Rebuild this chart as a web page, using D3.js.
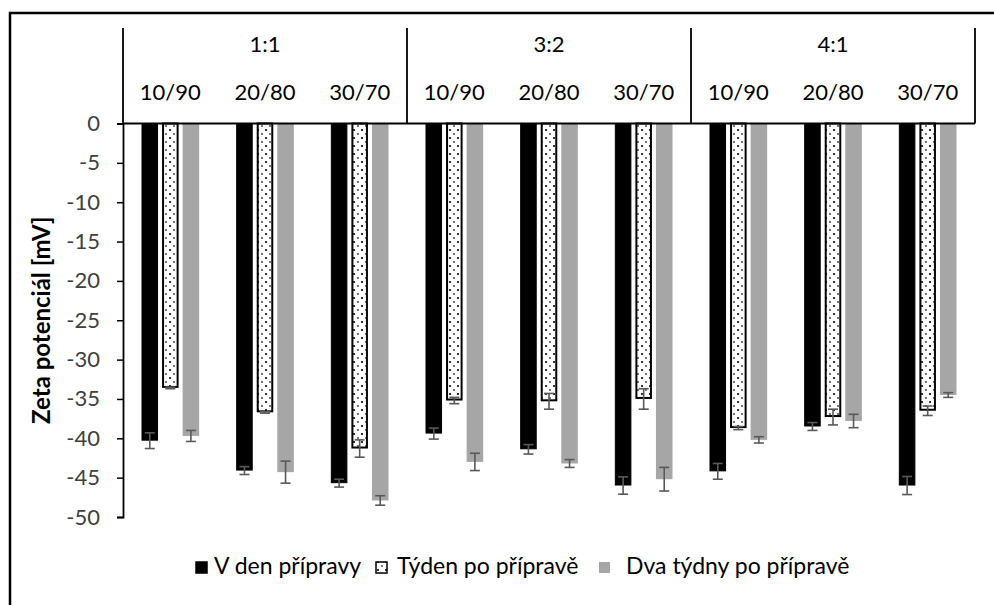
<!DOCTYPE html>
<html>
<head>
<meta charset="utf-8">
<script src="https://cdn.jsdelivr.net/npm/d3@7"></script>
<style>
  body { margin: 0; background: #fff; }
  svg { font-family: Lato, "Open Sans", sans-serif; }
</style>
</head>
<body>
<div id="chart"></div>
<script>
// data
const groups = ['1:1', '3:2', '4:1'];
const ratios = ['10/90', '20/80', '30/70'];
const seriesNames = ['V den přípravy', 'Týden po přípravě', 'Dva týdny po přípravě'];
const yTicks = [0, -5, -10, -15, -20, -25, -30, -35, -40, -45, -50];

const day0 = [-40.3, -44.1, -45.7, -39.4, -41.4, -46.0, -44.2, -38.5, -46.0];
const day0Err = [1.0, 0.5, 0.5, 0.7, 0.6, 1.1, 1.0, 0.5, 1.15];
const week1 = [-33.6, -36.7, -41.3, -35.2, -35.3, -35.0, -38.7, -37.3, -36.5];
const week1Err = [0.1, 0.1, 1.1, 0.4, 1.0, 1.3, 0.2, 1.0, 0.6];
const week2 = [-39.7, -44.3, -47.9, -43.0, -43.2, -45.2, -40.2, -37.8, -34.5];
const week2Err = [0.7, 1.4, 0.6, 1.1, 0.5, 1.5, 0.4, 0.85, 0.3];

const width = 994, height = 605;
const plot = {left: 123, right: 975, top: 123.5, bottom: 517};

const svg = d3.select('#chart').append('svg')
  .attr('width', width)
  .attr('height', height);

// dotted fill for the second series
const defs = svg.append('defs');
const pat = defs.append('pattern')
  .attr('id', 'dots')
  .attr('patternUnits', 'userSpaceOnUse')
  .attr('width', 8).attr('height', 8);
pat.append('rect').attr('width', 8).attr('height', 8).attr('fill', '#fff');
pat.append('rect').attr('x', 1).attr('y', 1).attr('width', 2).attr('height', 2).attr('fill', '#333');
pat.append('rect').attr('x', 5).attr('y', 5).attr('width', 2).attr('height', 2).attr('fill', '#777');

// outer frame (only left and top visible)
svg.append('path')
  .attr('d', `M10,${height}V13H${width}`)
  .attr('fill', 'none').attr('stroke', '#000').attr('stroke-width', 2.5);

const cats = [];
groups.forEach(g => ratios.forEach(r => cats.push(g + '|' + r)));

const x = d3.scaleBand().domain(cats).range([plot.left, plot.right]);
const xg = d3.scaleBand().domain(groups).range([plot.left, plot.right]);
const xs = d3.scaleBand().domain([0, 1, 2]).range([0, x.bandwidth()])
  .paddingInner(0.195).paddingOuter(0.9);
const y = d3.scaleLinear().domain([0, -50]).range([plot.top, plot.bottom]);

const series = [
  {vals: day0, err: day0Err, fill: '#000', stroke: '#000', sw: 1},
  {vals: week1, err: week1Err, fill: 'url(#dots)', stroke: '#000', sw: 2},
  {vals: week2, err: week2Err, fill: '#a6a6a6', stroke: 'none', sw: 0}
];

// bars
series.forEach((s, si) => {
  svg.append('g').selectAll('rect').data(s.vals).enter().append('rect')
    .attr('x', (d, i) => x(cats[i]) + xs(si) + s.sw / 2)
    .attr('y', y(0))
    .attr('width', xs.bandwidth() - s.sw)
    .attr('height', d => y(d) - y(0) - s.sw / 2)
    .attr('fill', s.fill)
    .attr('stroke', s.stroke)
    .attr('stroke-width', s.sw);
});

// error bars
series.forEach((s, si) => {
  const g = svg.append('g').attr('stroke', '#595959').attr('stroke-width', 1.6);
  s.vals.forEach((v, i) => {
    const cx = x(cats[i]) + xs(si) + xs.bandwidth() / 2;
    const lo = y(v - s.err[i]), hi = y(v + s.err[i]);
    g.append('line').attr('x1', cx).attr('x2', cx).attr('y1', lo).attr('y2', hi);
    g.append('line').attr('x1', cx - 5).attr('x2', cx + 5).attr('y1', lo).attr('y2', lo);
    g.append('line').attr('x1', cx - 5).attr('x2', cx + 5).attr('y1', hi).attr('y2', hi);
  });
});

// y axis
const yAxis = svg.append('g')
  .attr('transform', `translate(${plot.left},0)`)
  .call(d3.axisLeft(y).tickValues(yTicks).tickSize(6).tickPadding(17).tickFormat(d => d === 0 ? '0' : '-' + Math.abs(d)));
yAxis.select('.domain').attr('stroke', '#000').attr('stroke-width', 1.8);
yAxis.selectAll('.tick line').attr('stroke', '#000').attr('stroke-width', 1.5);
yAxis.selectAll('.tick text')
  .attr('font-size', 22).attr('fill', '#404040')
  .attr('font-family', 'Lato, sans-serif');

svg.append('text')
  .attr('transform', `translate(50,${(plot.top + plot.bottom) / 2}) rotate(-90)`)
  .attr('text-anchor', 'middle')
  .attr('font-size', 24).attr('font-weight', 'bold').attr('fill', '#000')
  .text('Zeta potenciál [mV]');

// header with category / group labels
svg.append('line')
  .attr('x1', plot.left).attr('x2', plot.right)
  .attr('y1', y(0)).attr('y2', y(0))
  .attr('stroke', '#000').attr('stroke-width', 1.8);
const bounds = groups.map(g => xg(g)).concat([plot.right]);
svg.append('g').selectAll('line').data(bounds).enter().append('line')
  .attr('x1', d => d).attr('x2', d => d)
  .attr('y1', 28).attr('y2', y(0))
  .attr('stroke', '#000').attr('stroke-width', 1.8);

svg.append('g').selectAll('text').data(groups).enter().append('text')
  .attr('x', d => xg(d) + xg.bandwidth() / 2)
  .attr('y', 52)
  .attr('text-anchor', 'middle')
  .attr('font-size', 22).attr('fill', '#000')
  .text(d => d);

svg.append('g').selectAll('text').data(cats).enter().append('text')
  .attr('x', d => x(d) + x.bandwidth() / 2)
  .attr('y', 100)
  .attr('text-anchor', 'middle')
  .attr('font-size', 22).attr('fill', '#000')
  .text(d => d.split('|')[1]);

// legend
const legendX = [196, 376, 599];
const legendTextX = [214, 397, 626];
const legend = svg.append('g');
seriesNames.forEach((name, i) => {
  legend.append('rect')
    .attr('x', legendX[i]).attr('y', 562)
    .attr('width', 11).attr('height', 11)
    .attr('fill', series[i].fill)
    .attr('stroke', series[i].stroke)
    .attr('stroke-width', series[i].sw ? 1.5 : 0);
  legend.append('text')
    .attr('x', legendTextX[i]).attr('y', 574)
    .attr('font-size', 23).attr('fill', '#000')
    .text(name);
});
</script>
</body>
</html>
